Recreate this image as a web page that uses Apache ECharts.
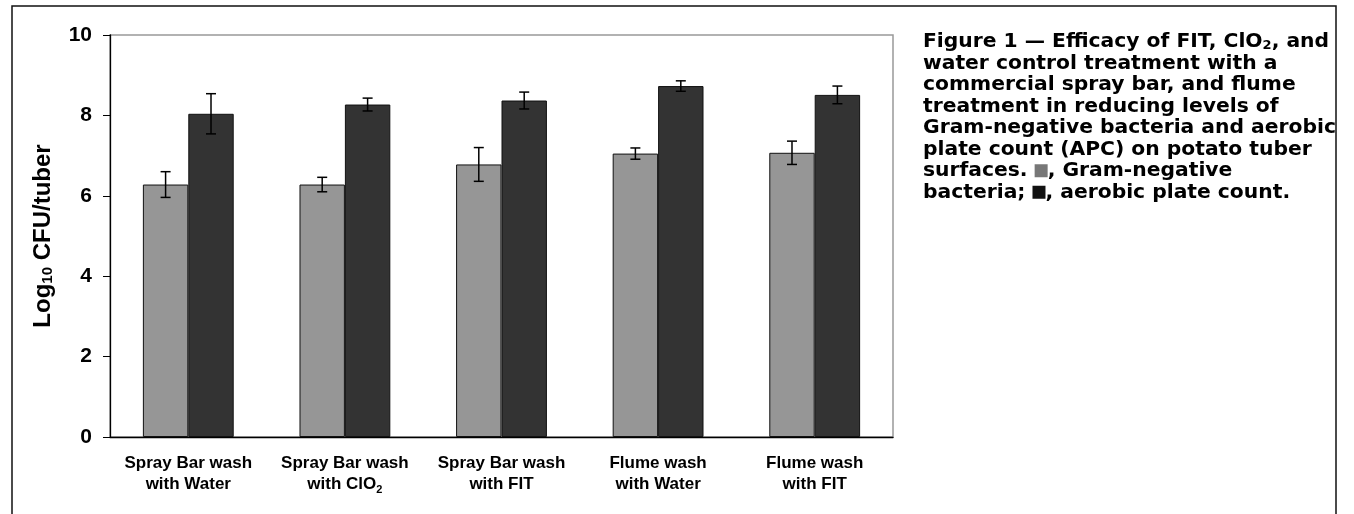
<!DOCTYPE html>
<html>
<head>
<meta charset="utf-8">
<script src="https://cdn.jsdelivr.net/npm/echarts@6/dist/echarts.min.js"></script>
<style>
  html, body { margin: 0; padding: 0; background: #fff; }
  #chart { width: 1354px; height: 514px; }
</style>
</head>
<body>
<div id="chart"></div>
<script>
// treatments along the x axis
const categories = ['Spray Bar wash\nwith Water', 'Spray Bar wash\nwith ClO2', 'Spray Bar wash\nwith FIT', 'Flume wash\nwith Water', 'Flume wash\nwith FIT']
// Gram-negative bacteria (light bars), log10 CFU/tuber
const gramNegative = [6.28, 6.28, 6.78, 7.05, 7.07]
const gramNegativeErr = [0.32, 0.18, 0.42, 0.14, 0.29]
// aerobic plate count (dark bars)
const aerobicPlate = [8.04, 8.27, 8.37, 8.73, 8.51]
const aerobicPlateErr = [0.50, 0.16, 0.21, 0.13, 0.22]
const yMin = 0, yMax = 10, yStep = 2

const caption = [
  'Figure 1 \u2014 Efficacy of FIT, ClO{sub|2}, and',
  'water control treatment with a',
  'commercial spray bar, and flume',
  'treatment in reducing levels of',
  'Gram-negative bacteria and aerobic',
  'plate count (APC) on potato tuber',
  'surfaces. {gsq|}, Gram-negative',
  'bacteria; {bsq|}, aerobic plate count.'
]

const GAP = 0.42
const font = '"Liberation Sans", Arial, sans-serif'

function errorData(values, errs) {
  return values.map((v, i) => [i, v - errs[i], v + errs[i]])
}

function errorBar(side) {
  return function (params, api) {
    const i = api.value(0)
    const lo = api.coord([i, api.value(1)])
    const hi = api.coord([i, api.value(2)])
    const barW = api.size([1, 0])[0] * (1 - GAP) / 2
    const x = lo[0] + side * barW / 2
    const cap = 5
    const style = { stroke: '#000', lineWidth: 1.5 }
    return {
      type: 'group',
      children: [
        { type: 'line', shape: { x1: x, y1: lo[1], x2: x, y2: hi[1] }, style },
        { type: 'line', shape: { x1: x - cap, y1: hi[1], x2: x + cap, y2: hi[1] }, style },
        { type: 'line', shape: { x1: x - cap, y1: lo[1], x2: x + cap, y2: lo[1] }, style }
      ]
    }
  }
}

const chart = echarts.init(document.getElementById('chart'))
chart.setOption({
  animation: false,
  backgroundColor: '#fff',
  title: {
    left: 918,
    top: 26,
    text: caption.join('\n'),
    textStyle: {
      fontFamily: '"DejaVu Sans", sans-serif',
      fontWeight: 'bold',
      fontSize: 20.3,
      lineHeight: 21.5,
      color: '#000',
      rich: {
        sub: { fontFamily: '"DejaVu Sans", sans-serif', fontWeight: 'bold', fontSize: 13, verticalAlign: 'bottom', lineHeight: 17, color: '#000' },
        gsq: { width: 13, height: 13, backgroundColor: '#777' },
        bsq: { width: 13, height: 13, backgroundColor: '#111' }
      }
    }
  },
  graphic: [{
    type: 'rect',
    shape: { x: 12, y: 6, width: 1324, height: 540 },
    style: { fill: 'none', stroke: '#111', lineWidth: 1.5 },
    silent: true
  }],
  grid: {
    left: 110, right: 461, top: 35, bottom: 77,
    show: true, borderColor: '#999', borderWidth: 1.5
  },
  xAxis: {
    type: 'category',
    data: categories,
    axisLine: { lineStyle: { color: '#000', width: 1.3 } },
    axisTick: { length: 6, lineStyle: { color: '#000' } },
    axisLabel: {
      margin: 16,
      fontFamily: font,
      fontWeight: 'bold',
      fontSize: 17,
      lineHeight: 21,
      color: '#000',
      interval: 0,
      formatter: v => v.replace('ClO2', 'ClO{sub|2}'),
      rich: {
        sub: { fontFamily: font, fontWeight: 'bold', fontSize: 11, verticalAlign: 'bottom', lineHeight: 15, color: '#000' }
      }
    }
  },
  yAxis: {
    type: 'value',
    min: yMin, max: yMax, interval: yStep,
    name: 'Log{sub|10} CFU/tuber',
    nameLocation: 'middle',
    nameRotate: 90,
    nameGap: 55,
    nameTextStyle: {
      fontFamily: font, fontWeight: 'bold', fontSize: 24, color: '#000',
      rich: {
        sub: { fontFamily: font, fontWeight: 'bold', fontSize: 15, verticalAlign: 'bottom', color: '#000' }
      }
    },
    axisLine: { show: true, lineStyle: { color: '#000', width: 1.3 } },
    axisTick: { show: true, length: 7, lineStyle: { color: '#000' } },
    axisLabel: { margin: 18, fontFamily: font, fontWeight: 'bold', fontSize: 21, color: '#000' },
    splitLine: { show: false }
  },
  series: [
    {
      name: 'Gram-negative bacteria',
      type: 'bar',
      data: gramNegative,
      barGap: '0%',
      barCategoryGap: (GAP * 100) + '%',
      itemStyle: { color: '#969696', borderColor: '#111', borderWidth: 1 }
    },
    {
      name: 'Aerobic plate count',
      type: 'bar',
      data: aerobicPlate,
      itemStyle: { color: '#333333', borderColor: '#111', borderWidth: 1 }
    },
    {
      type: 'custom',
      renderItem: errorBar(-1),
      data: errorData(gramNegative, gramNegativeErr),
      encode: { x: 0, y: [1, 2] },
      z: 5
    },
    {
      type: 'custom',
      renderItem: errorBar(1),
      data: errorData(aerobicPlate, aerobicPlateErr),
      encode: { x: 0, y: [1, 2] },
      z: 5
    }
  ]
})
</script>
</body>
</html>
